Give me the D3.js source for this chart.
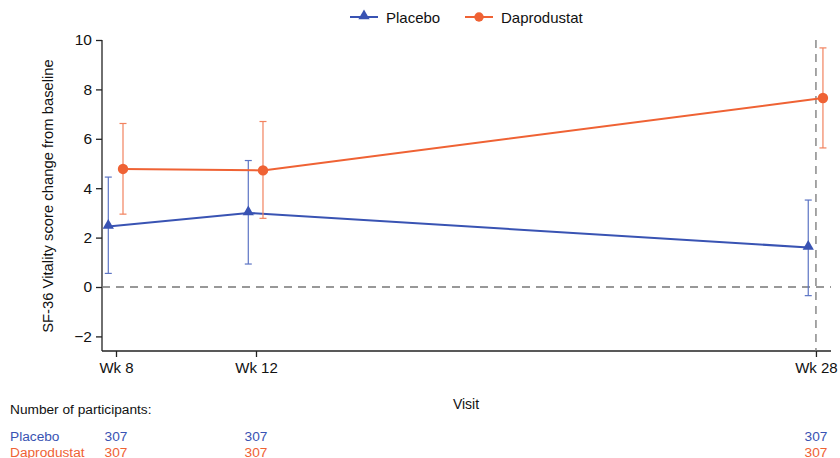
<!DOCTYPE html>
<html><head><meta charset="utf-8">
<script src="https://cdn.jsdelivr.net/npm/d3@7"></script>
<style>body{margin:0;background:#fff}svg{display:block;font-family:"Liberation Sans",Arial,sans-serif}</style>
</head><body><svg id="c" width="840" height="458"></svg>
<script>
const weeks = [8, 12, 28];
const weekLabels = ["Wk 8", "Wk 12", "Wk 28"];
const seriesNames = ["Placebo", "Daprodustat"];
const placeboMean = [2.45, 3.0, 1.6];
const placeboLow = [0.55, 0.93, -0.35];
const placeboHigh = [4.45, 5.12, 3.52];
const daproMean = [4.78, 4.72, 7.65];
const daproLow = [2.95, 2.78, 5.63];
const daproHigh = [6.62, 6.70, 9.68];
const placeboN = [307, 307, 307];
const daproN = [307, 307, 307];
const yTicks = [-2, 0, 2, 4, 6, 8, 10];

const colors = {Placebo: "#3953b3", Daprodustat: "#ef6234"};
const barColors = {Placebo: "#5c74c4", Daprodustat: "#f2825e"};
const offsets = {Placebo: -0.22, Daprodustat: 0.2};

const series = [
  {name: seriesNames[0], mean: placeboMean, lo: placeboLow, hi: placeboHigh, n: placeboN},
  {name: seriesNames[1], mean: daproMean, lo: daproLow, hi: daproHigh, n: daproN}
];

const svg = d3.select("#c");
const x = d3.scaleLinear().domain([7.6, 28.43]).range([102, 831]);
const y = d3.scaleLinear().domain([-2, 10]).range([336.4, 40]);
const yBottom = 351;

// y axis
const yAx = svg.append("g").attr("transform", "translate(102,0)")
  .call(d3.axisLeft(y).tickValues(yTicks).tickSize(6).tickPadding(4).tickFormat(d => d < 0 ? "\u2212" + Math.abs(d) : d));
yAx.select(".domain").attr("d", `M0,${y(10)}V${yBottom}`);
// x axis
const xAx = svg.append("g").attr("transform", `translate(0,${yBottom})`)
  .call(d3.axisBottom(x).tickValues(weeks).tickSize(6).tickPadding(5).tickFormat((d, i) => weekLabels[i]));
xAx.select(".domain").attr("d", `M102,0H831`);
[yAx, xAx].forEach(g => {
  g.selectAll("text").attr("font-size", 15).attr("fill", "#111").attr("font-family", "Liberation Sans, Arial, sans-serif");
  g.selectAll("line,path").attr("stroke", "#222").attr("stroke-width", 1.3);
});
yAx.selectAll("text").attr("font-size", 15.5);

// reference lines
svg.append("line").attr("x1", 102).attr("x2", 831).attr("y1", y(0)).attr("y2", y(0))
  .attr("stroke", "#777").attr("stroke-width", 1.3).attr("stroke-dasharray", "8,6");
svg.append("line").attr("x1", x(28)).attr("x2", x(28)).attr("y1", y(10)).attr("y2", yBottom)
  .attr("stroke", "#777").attr("stroke-width", 1.3).attr("stroke-dasharray", "8,6");

// series
series.forEach(s => {
  const c = colors[s.name], bc = barColors[s.name], off = offsets[s.name];
  const g = svg.append("g");
  weeks.forEach((w, i) => {
    const px = x(w + off);
    g.append("line").attr("x1", px).attr("x2", px).attr("y1", y(s.lo[i])).attr("y2", y(s.hi[i])).attr("stroke", bc).attr("stroke-width", 1.2);
    [s.lo[i], s.hi[i]].forEach(v => g.append("line").attr("x1", px - 3.5).attr("x2", px + 3.5).attr("y1", y(v)).attr("y2", y(v)).attr("stroke", bc).attr("stroke-width", 1.2));
  });
  g.append("path").datum(weeks.map((w, i) => [x(w + off), y(s.mean[i])]))
    .attr("d", d3.line()).attr("fill", "none").attr("stroke", c).attr("stroke-width", 2);
  const sym = s.name === "Placebo" ? d3.symbol(d3.symbolTriangle, 55) : d3.symbol(d3.symbolCircle, 85);
  weeks.forEach((w, i) => {
    g.append("path").attr("d", sym()).attr("fill", c)
      .attr("transform", `translate(${x(w + off)},${y(s.mean[i]) + (s.name === "Placebo" ? -1 : 0)})`);
  });
});

// legend
const leg = [{name: "Placebo", x0: 350}, {name: "Daprodustat", x0: 465}];
leg.forEach(l => {
  const c = colors[l.name];
  svg.append("line").attr("x1", l.x0).attr("x2", l.x0 + 28).attr("y1", 17).attr("y2", 17).attr("stroke", c).attr("stroke-width", 2);
  const sym = l.name === "Placebo" ? d3.symbol(d3.symbolTriangle, 55) : d3.symbol(d3.symbolCircle, 70);
  svg.append("path").attr("d", sym()).attr("fill", c).attr("transform", `translate(${l.x0 + 14},${l.name === "Placebo" ? 16 : 17})`);
  svg.append("text").attr("x", l.x0 + 36).attr("y", 22.5).attr("font-size", 15).attr("fill", "#111").text(l.name);
});

// axis titles
svg.append("text").attr("transform", "translate(53,196) rotate(-90)").attr("text-anchor", "middle")
  .attr("font-size", 14.8).attr("fill", "#111").text("SF-36 Vitality score change from baseline");
svg.append("text").attr("x", 466).attr("y", 409).attr("text-anchor", "middle").attr("font-size", 14).attr("fill", "#111").text("Visit");

// participants table
svg.append("text").attr("x", 10).attr("y", 414).attr("font-size", 13.7).attr("fill", "#111").text("Number of participants:");
series.forEach((s, k) => {
  const yy = 441 + k * 16;
  svg.append("text").attr("x", 10).attr("y", yy).attr("font-size", 13.7).attr("fill", colors[s.name]).text(s.name);
  weeks.forEach((w, i) => {
    svg.append("text").attr("x", x(w)).attr("y", yy).attr("text-anchor", "middle").attr("font-size", 13.7).attr("fill", colors[s.name]).text(s.n[i]);
  });
});
</script></body></html>
